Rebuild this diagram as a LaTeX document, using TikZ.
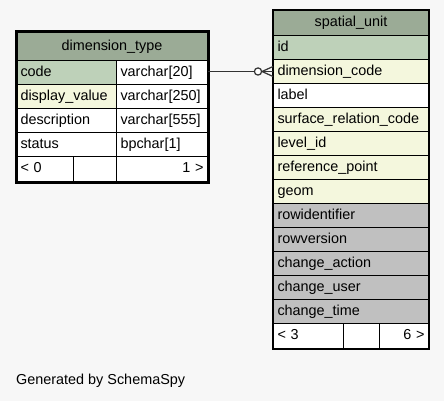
\documentclass[tikz,border=0pt]{standalone}
\usepackage{fontspec}
\setmainfont{Liberation Sans}
\usetikzlibrary{calc}
\definecolor{bg}{HTML}{F7F7F7}
\definecolor{hdr}{HTML}{9BAB96}
\definecolor{pk}{HTML}{BED1B9}
\definecolor{fk}{HTML}{F4F7DD}
\definecolor{aud}{HTML}{C0C0C0}
\begin{document}
\begin{tikzpicture}[x=1pt,y=-1pt,
  font=\fontsize{14.4}{16}\selectfont,
  cell/.style={draw=black,line width=1pt,anchor=north west,inner xsep=4pt,inner ysep=0pt,align=left,text height=10.5pt,text depth=3pt,minimum height=#1},
  cell/.default=24pt,
  hcell/.style={draw=black,line width=1pt,anchor=north west,inner sep=0pt,align=center,fill=hdr,text height=10.5pt,text depth=3pt,minimum height=#1},
  rel/.style={line width=1.2pt,draw=black!80}
]
\useasboundingbox[fill=bg] (0,0) rectangle (444,401);
% ---------- dimension_type ----------
\node[hcell=28pt,minimum width=191pt] (dth) at (16,32) {dimension\_type};
\node[cell,fill=pk,text width=92pt] (dtcodeN) at (16,60) {code};
\node[cell,fill=white,text width=83pt] (dtcode) at (116,60) {varchar[20]};
\node[cell,fill=fk,text width=92pt] (dtdvN) at (16,84) {display\_value};
\node[cell,fill=white,text width=83pt] (dtdv) at (116,84) {varchar[250]};
\node[cell,fill=white,text width=92pt] (dtdescN) at (16,108) {description};
\node[cell,fill=white,text width=83pt] (dtdesc) at (116,108) {varchar[555]};
\node[cell,fill=white,text width=92pt] (dtstN) at (16,132) {status};
\node[cell,fill=white,text width=83pt] (dtst) at (116,132) {bpchar[1]};
\node[cell=25pt,fill=white,text width=49pt] (dtf1) at (16,156) {< 0};
\node[cell=25pt,fill=white,text width=35pt] (dtf2) at (73,156) {};
\node[cell=25pt,fill=white,text width=83pt,align=right] (dtf3) at (116,156) {1 >};
\draw[line width=3pt] (dth.north west) rectangle (dtf3.south east);
% ---------- spatial_unit ----------
\node[hcell=25pt,minimum width=155pt] (suh) at (273,10) {spatial\_unit};
\node[cell,fill=pk,text width=147pt] (suid) at (273,35) {id};
\node[cell,fill=fk,text width=147pt] (sucode) at (273,59) {dimension\_code};
\node[cell,fill=white,text width=147pt] (sulabel) at (273,83) {label};
\node[cell,fill=fk,text width=147pt] (susurf) at (273,107) {surface\_relation\_code};
\node[cell,fill=fk,text width=147pt] (sulevel) at (273,131) {level\_id};
\node[cell,fill=fk,text width=147pt] (suref) at (273,155) {reference\_point};
\node[cell,fill=fk,text width=147pt] (sugeom) at (273,179) {geom};
\node[cell,fill=aud,text width=147pt] (surid) at (273,203) {rowidentifier};
\node[cell,fill=aud,text width=147pt] (surv) at (273,227) {rowversion};
\node[cell,fill=aud,text width=147pt] (suca) at (273,251) {change\_action};
\node[cell,fill=aud,text width=147pt] (sucu) at (273,275) {change\_user};
\node[cell,fill=aud,text width=147pt] (suct) at (273,299) {change\_time};
\node[cell=25pt,fill=white,text width=62pt] (suf1) at (273,323) {< 3};
\node[cell=25pt,fill=white,text width=28pt] (suf2) at (343,323) {};
\node[cell=25pt,fill=white,text width=41pt,align=right] (suf3) at (379,323) {6 >};
\draw[line width=1.3pt] (suh.north west) rectangle (suf3.south east);
% ---------- relationship ----------
\coordinate (cf) at ($(sucode.west)+(-11,0)$);
\draw[rel] (dtcode.east |- cf) -- (cf);
\draw[rel] (cf) -- ($(sucode.west)+(0,-5)$);
\draw[rel] (cf) -- (sucode.west);
\draw[rel] (cf) -- ($(sucode.west)+(0,5)$);
\draw[rel,fill=white] ($(cf)+(-4,0)$) circle (3.6pt);
% ---------- footer ----------
\node[anchor=west,inner sep=0pt] (gen) at (16,381) {Generated by SchemaSpy};
\end{tikzpicture}
\end{document}
